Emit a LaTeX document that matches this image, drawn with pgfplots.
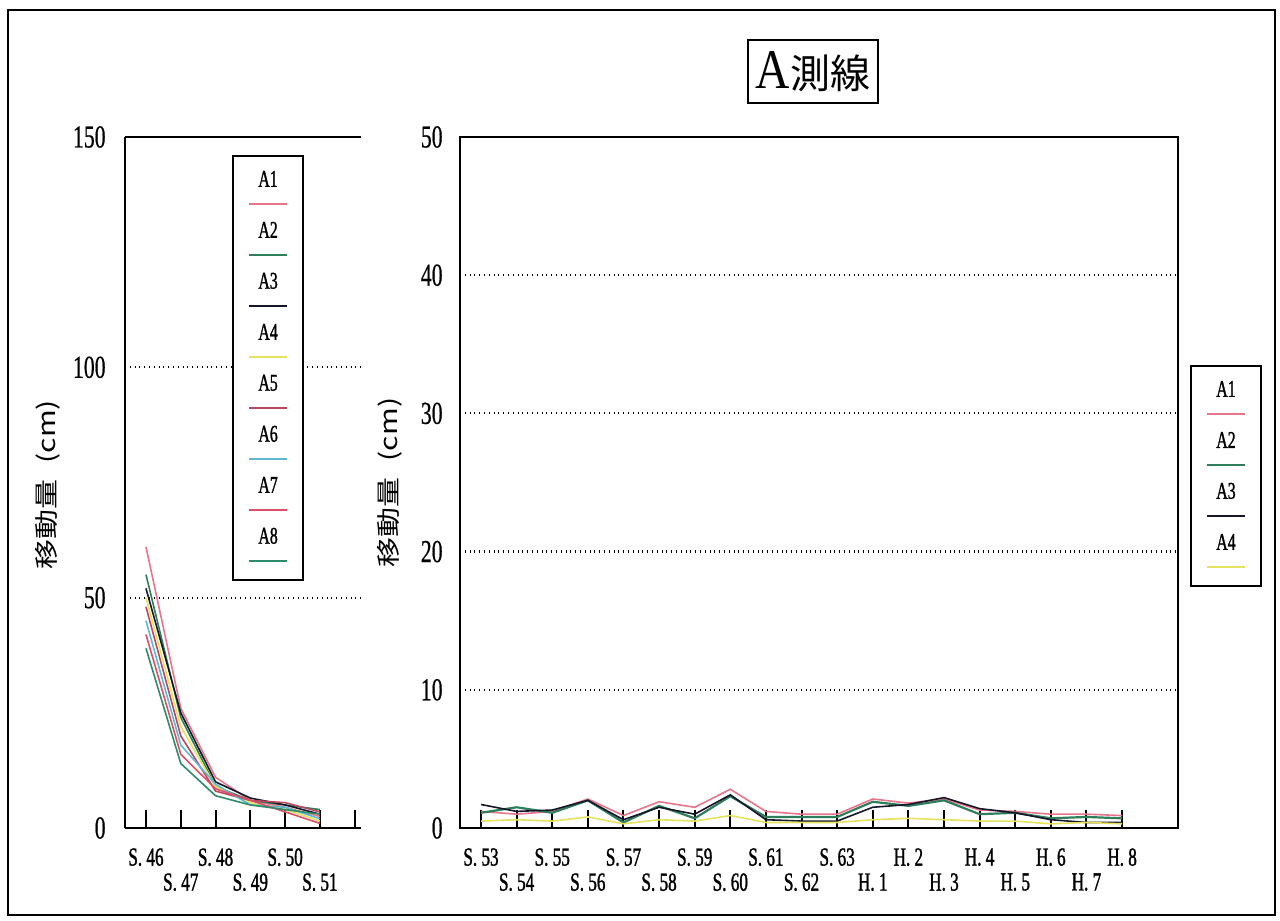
\documentclass[border=0pt]{standalone}
\usepackage{pgfplots}
\usepackage{pgfplotstable}
\pgfplotsset{compat=1.18}
\usepackage{fontspec}
\setmainfont{Liberation Serif}
\newfontfamily\narrowserif[FakeStretch=0.68,FakeBold=0.5]{Liberation Serif}
\newfontfamily\narrowbold[FakeStretch=0.66,FakeBold=1.2]{Liberation Serif}
\newfontfamily\titleserif[FakeStretch=0.85]{Liberation Serif}
\newfontfamily\cjk{Noto Sans CJK JP}
\newfontfamily\cjkwide[FakeStretch=1.25]{Noto Sans CJK JP}

\definecolor{a1}{HTML}{E8758A}
\definecolor{a2}{HTML}{2E7D5B}
\definecolor{a3}{HTML}{16162A}
\definecolor{a4}{HTML}{E4E25E}
\definecolor{a5}{HTML}{B8485E}
\definecolor{a6}{HTML}{5EB8D0}
\definecolor{a7}{HTML}{DA5068}
\definecolor{a8}{HTML}{2F8A6A}

% movement (cm), survey line A, Showa 46-51
\pgfplotstableread{
yr A1 A2 A3 A4 A5 A6 A7 A8
0 61 55 52 50 48 45 42 39
1 26 24 25 22 20 18 16 14
2 11 9 10 9 8 9.5 8.5 7
3 6 6 6.5 5.5 6 5 6 5
4 4.5 5 5 4 5.5 4.5 3.5 4
5 2.5 4 3 1.5 3.5 2 1 3
}\earlytable

% movement (cm), Showa 53 - Heisei 8
\pgfplotstableread{
yr A1 A2 A3 A4
0 1.2 1.1 1.7 0.5
1 1.0 1.5 1.2 0.6
2 1.2 1.1 1.3 0.5
3 2.1 2.0 2.0 0.8
4 0.9 0.4 0.6 0.3
5 1.9 1.6 1.5 0.6
6 1.5 0.7 1.0 0.5
7 2.8 2.3 2.4 0.9
8 1.2 0.8 0.6 0.4
9 1.0 0.8 0.5 0.4
10 1.0 0.8 0.5 0.4
11 2.1 1.9 1.5 0.6
12 1.8 1.6 1.7 0.7
13 2.1 2.0 2.2 0.6
14 1.3 1.0 1.4 0.5
15 1.2 1.1 1.1 0.5
16 1.0 0.7 0.6 0.3
17 1.0 0.8 0.4 0.4
18 0.9 0.7 0.4 0.3
}\latetable

% legend entry: name above a coloured line sample
\newcommand\legentry[2]{\vbox{\offinterlineskip
  \hbox to 22pt{\hss #1\hss}\kern8pt
  \hbox to 22pt{\hss\textcolor{#2}{\rule{19pt}{1.1pt}}\hss}}}

\pgfplotsset{
  survey/.style={
    scale only axis,
    height=345.5pt,
    ymin=0,
    axis line style={-, line width=1.2pt, black},
    tick align=inside,
    xtick pos=bottom,
    ytick style={draw=none},
    x tick style={line width=1pt, black},
    major tick length=9pt,
    ymajorgrids,
    major grid style={dotted, line width=1.1pt, black},
    xticklabel style={font=\narrowbold\fontsize{13}{13}\selectfont, anchor=north, inner sep=0pt, yshift=-10pt},
    extra x tick style={xticklabel style={yshift=-12.5pt}},
    yticklabel style={font=\narrowserif\fontsize{16}{16}\selectfont, anchor=east, inner sep=0pt},
    every axis y label/.style={rotate=90, anchor=center, font=\cjkwide\fontsize{12}{14}\selectfont},
    ylabel={移動量\hspace{8pt}(cm)},
    legend image code/.code={},
    legend style={draw=black, line width=1pt, inner xsep=6.5pt, inner ysep=4pt,
      row sep=0pt, column sep=0pt, font=\narrowbold\fontsize{12}{12}\selectfont,
      nodes={inner sep=0pt, minimum height=25.5pt, anchor=center}},
    every axis plot/.append style={line width=0.8pt, no markers},
  },
}

\begin{document}
\begin{tikzpicture}
\useasboundingbox (0,0) rectangle (640pt,460.5pt);
\draw[line width=1pt] (4pt,3pt) rectangle (637.5pt,455.5pt);

\node[draw, line width=0.8pt, minimum width=65pt, minimum height=31.5pt, inner sep=0pt]
  at (406.5pt,424.75pt) {{\titleserif\fontsize{28}{28}\selectfont A}{\cjk\fontsize{20}{20}\selectfont 測線}};

% Showa 46 - 51
\begin{axis}[survey,
  at={(62.5pt,46.5pt)}, anchor=south west,
  width=118pt,
  axis x line=box, axis y line=left,
  axis line style={-},
  xmin=-0.603, xmax=6.18,
  ymax=150,
  ytick={0,50,100,150}, yticklabels={0,50,100,150},
  yticklabel style={xshift=-5pt},
  xtick={0,2,4,6}, xticklabels={S. 46,S. 48,S. 50,},
  extra x ticks={1,3,5}, extra x tick labels={S. 47,S. 49,S. 51},
  every axis y label/.append style={at={(axis description cs:-0.3263,0.497)}},
  legend style={at={(axis description cs:0.4538,0.974)}, anchor=north west},
]
\addplot[a1] table[x=yr,y=A1] {\earlytable};
\addplot[a2] table[x=yr,y=A2] {\earlytable};
\addplot[a3] table[x=yr,y=A3] {\earlytable};
\addplot[a4] table[x=yr,y=A4] {\earlytable};
\addplot[a5] table[x=yr,y=A5] {\earlytable};
\addplot[a6] table[x=yr,y=A6] {\earlytable};
\addplot[a7] table[x=yr,y=A7] {\earlytable};
\addplot[a8] table[x=yr,y=A8] {\earlytable};
\addlegendentry{\legentry{A1}{a1}}
\addlegendentry{\legentry{A2}{a2}}
\addlegendentry{\legentry{A3}{a3}}
\addlegendentry{\legentry{A4}{a4}}
\addlegendentry{\legentry{A5}{a5}}
\addlegendentry{\legentry{A6}{a6}}
\addlegendentry{\legentry{A7}{a7}}
\addlegendentry{\legentry{A8}{a8}}
\end{axis}

% Showa 53 - Heisei 8
\begin{axis}[survey,
  at={(230pt,46.5pt)}, anchor=south west,
  width=359pt,
  xmin=-0.59, xmax=19.57,
  ymax=50,
  ytick={0,10,20,30,40,50}, yticklabels={0,10,20,30,40,50},
  yticklabel style={xshift=-8.5pt},
  xtick={0,2,...,18},
  xticklabels={S. 53,S. 55,S. 57,S. 59,S. 61,S. 63,H. 2,H. 4,H. 6,H. 8},
  extra x ticks={1,3,...,17},
  extra x tick labels={S. 54,S. 56,S. 58,S. 60,S. 62,H. 1,H. 3,H. 5,H. 7},
  every axis y label/.append style={at={(axis description cs:-0.0975,0.5)}},
  legend style={at={(axis description cs:1.0167,0.670)}, anchor=north west},
]
\addplot[a1] table[x=yr,y=A1] {\latetable};
\addplot[a2, line width=1.1pt] table[x=yr,y=A2] {\latetable};
\addplot[a3] table[x=yr,y=A3] {\latetable};
\addplot[a4] table[x=yr,y=A4] {\latetable};
\addlegendentry{\legentry{A1}{a1}}
\addlegendentry{\legentry{A2}{a2}}
\addlegendentry{\legentry{A3}{a3}}
\addlegendentry{\legentry{A4}{a4}}
\end{axis}
\end{tikzpicture}
\end{document}
